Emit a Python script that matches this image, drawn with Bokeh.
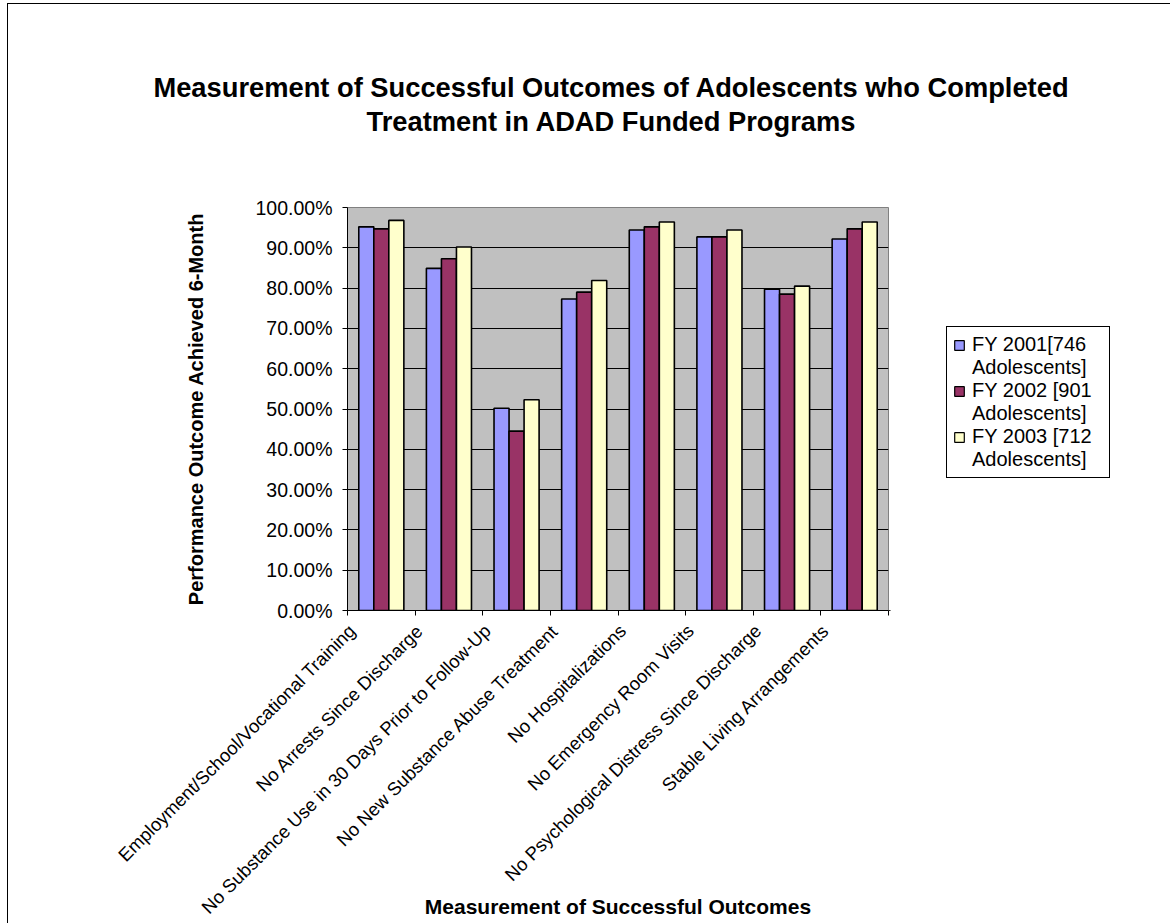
import math
import numpy as np
from bokeh.plotting import figure
from bokeh.layouts import column, row
from bokeh.models import Range1d, FixedTicker, NumeralTickFormatter, Legend, LegendItem, Label
from bokeh.embed import file_html
from bokeh.resources import INLINE

categories = [
    "Employment/School/Vocational Training",
    "No Arrests Since Discharge",
    "No Substance Use in 30 Days Prior to Follow-Up",
    "No New Substance Abuse Treatment",
    "No Hospitalizations",
    "No Emergency Room Visits",
    "No Psychological Distress Since Discharge",
    "Stable Living Arrangements",
]
series_line1 = ["FY 2001[746", "FY 2002 [901", "FY 2003 [712"]
series_line2 = ["Adolescents]", "Adolescents]", "Adolescents]"]
fy2001 = [0.952, 0.849, 0.502, 0.773, 0.944, 0.927, 0.797, 0.922]
fy2002 = [0.947, 0.873, 0.445, 0.790, 0.952, 0.927, 0.785, 0.947]
fy2003 = [0.968, 0.902, 0.523, 0.819, 0.964, 0.944, 0.805, 0.964]
colors = ["#9999FF", "#993366", "#FFFFCC"]
y_ticks = [0.0, 0.1, 0.2, 0.3, 0.4, 0.5, 0.6, 0.7, 0.8, 0.9, 1.0]

title_lines = ["Measurement of Successful Outcomes of Adolescents who Completed",
               "Treatment in ADAD Funded Programs"]
x_title = "Measurement of Successful Outcomes"
y_title = "Performance Outcome Achieved 6-Month"

FONT = "Liberation Sans"
n = len(categories)
LABEL_SHIFT = -0.43  # category label anchor offset (style)

TOTAL_W = 1162
TITLE_H = 186
MAIN_W = 881
MAIN_H = 733
LEG_W = TOTAL_W - MAIN_W
B_TOP, B_BOTTOM = 17, 313

# ---------------- title strip ----------------
tf = figure(width=TOTAL_W, height=TITLE_H, output_backend="svg", toolbar_location=None,
            x_range=Range1d(0, TOTAL_W), y_range=Range1d(0, TITLE_H),
            x_axis_type=None, y_axis_type=None,
            min_border=0, outline_line_color=None,
            background_fill_color="white", border_fill_color="white")
tf.grid.visible = False
for txt, yy in zip(title_lines, [TITLE_H - 83, TITLE_H - 117]):
    tf.add_layout(Label(x=603, y=yy, text=txt, text_align="center", text_baseline="middle",
                        text_font=FONT, text_font_size="27.3px", text_font_style="bold",
                        text_color="black"))

# ---------------- main chart ----------------
p = figure(width=MAIN_W, height=MAIN_H, output_backend="svg", toolbar_location=None,
           x_range=Range1d(0, n), y_range=Range1d(0, 1),
           min_border_left=339, min_border_right=1, min_border_top=B_TOP, min_border_bottom=B_BOTTOM,
           background_fill_color="#C0C0C0", border_fill_color="white",
           outline_line_color="#808080", outline_line_width=1)

centers = np.arange(n) + 0.5
bw = 1 / 4.5
series = [fy2001, fy2002, fy2003]
for i, (vals, col) in enumerate(zip(series, colors)):
    p.vbar(x=centers + (i - 1) * bw, top=vals, bottom=0, width=bw,
           fill_color=col, line_color="black", line_width=1.6)

p.yaxis.ticker = FixedTicker(ticks=y_ticks)
p.yaxis.formatter = NumeralTickFormatter(format="0.00%")
p.yaxis.major_label_text_font = FONT
p.yaxis.major_label_text_font_size = "19.5px"
p.yaxis.major_label_text_color = "black"
p.yaxis.major_tick_out = 5
p.yaxis.major_tick_in = 0
p.yaxis.minor_tick_line_color = None
p.yaxis.axis_line_color = "black"
p.yaxis.major_tick_line_color = "black"
p.yaxis.major_label_standoff = 10
p.yaxis.axis_label = y_title
p.yaxis.axis_label_text_font = FONT
p.yaxis.axis_label_text_font_size = "20px"
p.yaxis.axis_label_text_font_style = "bold"
p.yaxis.axis_label_text_color = "black"
p.yaxis.axis_label_standoff = 46

label_pos = centers + LABEL_SHIFT
p.xaxis.ticker = FixedTicker(ticks=list(label_pos), minor_ticks=list(range(n + 1)))
p.xaxis.major_label_overrides = {float(c): lab for c, lab in zip(label_pos, categories)}
p.xaxis.major_tick_line_color = None
p.xaxis.minor_tick_line_color = "black"
p.xaxis.minor_tick_out = 5
p.xaxis.minor_tick_in = 0
p.xaxis.axis_line_color = "black"
p.xaxis.major_label_orientation = math.pi / 4
p.xaxis.major_label_text_font = FONT
p.xaxis.major_label_text_font_size = "18.5px"
p.xaxis.major_label_text_color = "black"
p.xaxis.major_label_standoff = 11
p.xaxis.axis_label = x_title
p.xaxis.axis_label_text_font = FONT
p.xaxis.axis_label_text_font_size = "21px"
p.xaxis.axis_label_text_font_style = "bold"
p.xaxis.axis_label_text_color = "black"
p.xaxis.axis_label_standoff = -33

p.ygrid.ticker = FixedTicker(ticks=y_ticks)
p.ygrid.grid_line_color = "black"
p.ygrid.grid_line_width = 1
p.xgrid.visible = False

# ---------------- legend panel (frame aligned with the chart's frame) ----------------
# legend proxies draw the same series far outside this panel's visible ranges
lf = figure(width=LEG_W, height=MAIN_H, output_backend="svg", toolbar_location=None,
            x_range=Range1d(100, 101), y_range=Range1d(100, 101),
            x_axis_type=None, y_axis_type=None,
            min_border_left=0, min_border_top=B_TOP, min_border_right=0, min_border_bottom=B_BOTTOM,
            outline_line_color=None,
            background_fill_color="white", border_fill_color="white")
lf.grid.visible = False
items = []
for i, (l1, l2, vals, col) in enumerate(zip(series_line1, series_line2, series, colors)):
    r1 = lf.vbar(x=centers + (i - 1) * bw, top=vals, bottom=0, width=bw,
                 fill_color=col, line_color="black", line_width=1.2)
    r2 = lf.vbar(x=centers + (i - 1) * bw, top=vals, bottom=0, width=bw,
                 fill_alpha=0, line_alpha=0)
    items.append(LegendItem(label=l1, renderers=[r1]))
    items.append(LegendItem(label=l2, renderers=[r2]))

legend = Legend(items=items, location=(57, 132), orientation="vertical",
                border_line_color="black", border_line_width=1, border_line_alpha=1,
                background_fill_color="white", background_fill_alpha=1,
                label_text_font=FONT, label_text_font_size="20px", label_text_color="black",
                label_height=23, label_width=131,
                glyph_width=12, glyph_height=12, label_standoff=7, padding=6, spacing=0, margin=0)
lf.add_layout(legend)

layout = column(tf, row(p, lf))
layout.margin = (3, 0, 0, 7)
layout.styles = {"border-left": "1px solid black", "border-top": "1px solid black"}

open("out.html", "w").write(file_html(layout, INLINE))
